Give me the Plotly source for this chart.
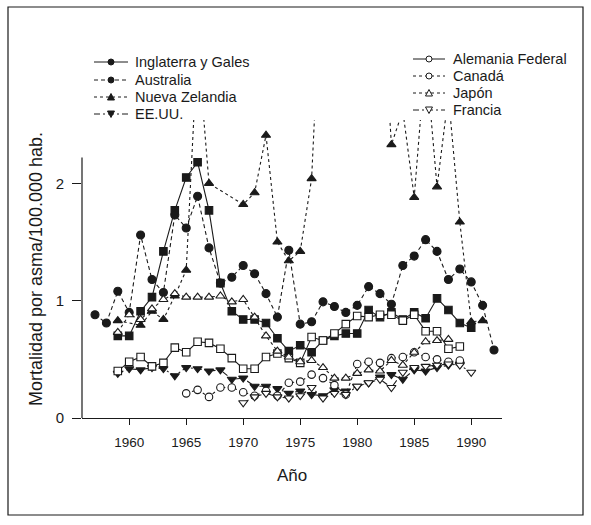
import plotly.graph_objects as go

# ---- data ----
eng_years = list(range(1959, 1991))
eng = [0.70, 0.70, 0.91, 1.03, 1.42, 1.77, 2.05, 2.18, 1.77, 1.15,
       0.91, 0.84, 0.84, 0.81, 0.68, 0.57, 0.62, 0.56, 0.66, 0.70,
       0.72, 0.72, 0.92, 0.86, 0.90, 0.84, 0.90, 0.85, 1.02, 0.92,
       0.81, 0.77]

aus_years = list(range(1957, 1993))
aus = [0.88, 0.81, 1.08, 0.90, 1.56, 1.18, 1.07, 1.73, 1.62, 1.89,
       1.45, 1.15, 1.20, 1.30, 1.23, 1.06, 0.86, 1.43, 0.80, 0.82,
       0.99, 0.95, 0.90, 0.96, 1.12, 1.06, 0.97, 1.30, 1.38, 1.52,
       1.42, 1.18, 1.27, 1.16, 0.96, 0.58]

nz_years = [1959, 1961, 1962, 1963, 1964, 1965, 1966, 1967, 1970, 1971,
            1972, 1973, 1974, 1975, 1976, 1977, 1978, 1979, 1980, 1981,
            1982, 1983, 1984, 1985, 1986, 1987, 1988, 1989, 1990, 1991]
nz = [0.83, 0.79, 0.91, 0.84, 1.04, 1.26, 3.2, 2.0, 1.82, 1.92,
      2.41, 1.50, 1.34, 1.42, 2.04, 4.1, 4.0, 3.9, 3.7, 3.8,
      3.9, 2.33, 2.62, 1.88, 3.1, 1.97, 2.75, 1.67, 0.82, 0.83]

usa_years = list(range(1959, 1990))
usa = [0.38, 0.42, 0.41, 0.43, 0.42, 0.36, 0.43, 0.42, 0.40, 0.41,
       0.33, 0.34, 0.27, 0.27, 0.25, 0.21, 0.23, 0.20, 0.19, 0.24,
       0.23, 0.27, 0.30, 0.35, 0.37, 0.33, 0.41, 0.40, 0.43, 0.45,
       0.46]

ger_years = list(range(1959, 1990))
ger = [0.40, 0.48, 0.52, 0.44, 0.47, 0.60, 0.56, 0.65, 0.64, 0.59,
       0.51, 0.42, 0.42, 0.52, 0.55, 0.51, 0.47, 0.69, 0.66, 0.72,
       0.80, 0.87, 0.86, 0.88, 0.88, 0.83, 0.88, 0.74, 0.74, 0.59,
       0.61]

can_years = list(range(1965, 1990))
can = [0.21, 0.24, 0.18, 0.26, 0.26, 0.22, 0.19, 0.23, 0.19, 0.30,
       0.31, 0.37, 0.34, 0.28, 0.20, 0.46, 0.48, 0.47, 0.51, 0.52,
       0.56, 0.52, 0.50, 0.48, 0.49]

jap_years = list(range(1959, 1989))
jap = [0.73, 0.88, 0.84, 0.93, 1.01, 1.06, 1.03, 1.03, 1.03, 1.04,
       0.99, 1.01, 0.86, 0.70, 0.57, 0.52, 0.48, 0.49, 0.43, 0.34,
       0.34, 0.38, 0.41, 0.40, 0.49, 0.45, 0.56, 0.65, 0.66, 0.67]

fra_years = list(range(1970, 1991))
fra = [0.13, 0.18, 0.21, 0.18, 0.17, 0.19, 0.26, 0.17, 0.21, 0.20,
       0.27, 0.30, 0.33, 0.26, 0.39, 0.43, 0.44, 0.45, 0.46, 0.45,
       0.39]

x_ticks = [1960, 1965, 1970, 1975, 1980, 1985, 1990]
y_ticks = [0, 1, 2]

INK = "#1a1a1a"
FONT = "Liberation Sans, Arial, sans-serif"

# name, years, values, dash, plot symbol, size, fill, key column, key symbol
series = [
    ("Inglaterra y Gales", eng_years, eng, "solid", "square", 7.5, INK, 0, "circle"),
    ("Australia", aus_years, aus, "4px,3px", "circle", 8, INK, 0, "circle"),
    ("Nueva Zelandia", nz_years, nz, "dot", "triangle-up", 8, INK, 0, "up"),
    ("EE.UU.", usa_years, usa, "6px,3px,2px,3px", "triangle-down", 8, INK, 0, "down"),
    ("Alemania Federal", ger_years, ger, "solid", "square", 7.5, "white", 1, "circle"),
    ("Canadá", can_years, can, "3px,3px", "circle", 7.5, "white", 1, "circle"),
    ("Japón", jap_years, jap, "dot", "triangle-up", 8, "white", 1, "up"),
    ("Francia", fra_years, fra, "6px,3px,2px,3px", "triangle-down", 8, "white", 1, "down"),
]

fig = go.Figure()
for name, xs, ys, dash, sym, size, fill, col, ksym in series:
    fig.add_trace(go.Scatter(
        x=xs, y=ys, name=name, mode="lines+markers", showlegend=False,
        line=dict(color=INK, width=1.1, dash=dash),
        marker=dict(symbol=sym, size=size, color=fill,
                    line=dict(color=INK, width=1.1)),
    ))

# plot area in pixels: x 82..502, y 120..418
L, R, T, B = 82, 502, 120, 418
def px(xp):
    return (xp - L) / (R - L)
def py(yp):
    return (B - yp) / (B - T)

# ---- key (two columns, as in the reference) ----
key_cols = [
    dict(x0=94, x1=128, xm=111, xt=134, rows=[62, 80, 97, 114]),
    dict(x0=413, x1=445, xm=429, xt=452, rows=[59, 76, 93, 110]),
]
counters = [0, 0]
for name, xs, ys, dash, sym, size, fill, col, ksym in series:
    kc = key_cols[col]
    yr = kc["rows"][counters[col]]
    counters[col] += 1
    xm = kc["xm"]
    fig.add_shape(type="line", xref="paper", yref="paper",
                  x0=px(kc["x0"]), x1=px(kc["x1"]), y0=py(yr), y1=py(yr),
                  line=dict(color=INK, width=1.0, dash=dash))
    if ksym == "circle":
        fig.add_shape(type="circle", xref="paper", yref="paper",
                      x0=px(xm - 3), x1=px(xm + 3), y0=py(yr + 3), y1=py(yr - 3),
                      fillcolor=fill, line=dict(color=INK, width=1.0))
    else:
        s = 1 if ksym == "up" else -1
        pts = [(xm - 3.5, yr + 3 * s), (xm + 3.5, yr + 3 * s), (xm, yr - 3.5 * s)]
        path = "M " + " L ".join(f"{px(a):.5f},{py(b):.5f}" for a, b in pts) + " Z"
        fig.add_shape(type="path", xref="paper", yref="paper", path=path,
                      fillcolor=fill, line=dict(color=INK, width=1.0))
    fig.add_annotation(xref="paper", yref="paper", x=px(kc["xt"]), y=py(yr),
                       xanchor="left", yanchor="middle", text=name,
                       showarrow=False, borderpad=0,
                       font=dict(size=14.5, color=INK))

fig.update_layout(
    width=591, height=525,
    margin=dict(l=L, r=591 - R, t=T, b=525 - B, autoexpand=False),
    paper_bgcolor="white", plot_bgcolor="white",
    font=dict(family=FONT, size=13, color=INK),
    showlegend=False,
    xaxis=dict(range=[1955.86, 1992.7], tickvals=x_ticks,
               ticktext=[str(v) for v in x_ticks], automargin=False,
               showgrid=False, zeroline=False, showline=True,
               linecolor=INK, linewidth=1.2, ticks="outside", ticklen=6,
               tickcolor=INK, tickfont=dict(size=13.5), ticklabelstandoff=6,
               title=dict(text="Año", font=dict(size=17), standoff=19)),
    yaxis=dict(range=[0, 2.54], tickvals=y_ticks,
               ticktext=[str(v) for v in y_ticks], automargin=False,
               showgrid=False, zeroline=False, showline=False,
               ticks="outside", ticklen=9, tickcolor=INK,
               tickfont=dict(size=15), ticklabelstandoff=5,
               title=dict(text="Mortalidad por asma/100.000 hab.",
                          font=dict(size=18), standoff=8)),
)

# y-axis line stops at 2.22 as in the reference
fig.add_shape(type="line", xref="paper", yref="y", x0=0, x1=0, y0=0, y1=2.22,
              line=dict(color=INK, width=1.2))
# outer frame around the whole figure
fig.add_shape(type="rect", xref="paper", yref="paper",
              x0=px(8), x1=px(583), y0=py(515), y1=py(7),
              line=dict(color=INK, width=1.2))

fig.write_html("out.html", config={"displayModeBar": False},
               post_script="document.body.style.margin='0px';")
